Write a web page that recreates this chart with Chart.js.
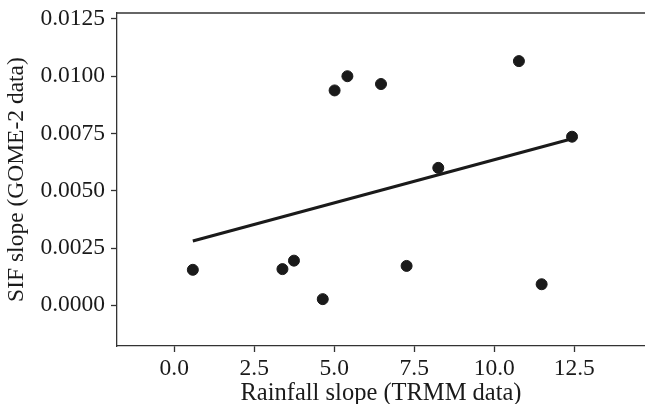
<!DOCTYPE html>
<html>
<head>
<meta charset="utf-8">
<script src="https://cdn.jsdelivr.net/npm/chart.js@4"></script>
<style>
    html, body { margin: 0; padding: 0; background: #fff; }
    #wrap { width: 645px; height: 404px; position: relative; }
</style>
</head>
<body>
<div id="wrap"><canvas id="sifChart"></canvas></div>
<script>
// Rainfall slope vs SIF slope, one point per site
const rainfallSlope = [0.58, 3.38, 3.74, 4.64, 5.01, 5.41, 6.46, 7.26, 8.25, 10.77, 11.48, 12.43];
const sifSlope = [0.00155, 0.00158, 0.00195, 0.00027, 0.00938, 0.0100, 0.00966, 0.00172, 0.0060, 0.01066, 0.00092, 0.00736];

// fitted line, read at its two ends
const fitX = [0.58, 12.43];
const fitY = [0.00281, 0.00727];

const xTickValues = [0, 2.5, 5, 7.5, 10, 12.5];
const yTickValues = [0, 0.0025, 0.005, 0.0075, 0.01, 0.0125];

const ink = '#1a1a1a';
const axisColor = '#333333';
const serif = 'Liberation Serif, "Times New Roman", serif';

// top spine (matplotlib style, no right spine)
const topSpine = {
    id: 'topSpine',
    afterDraw(chart) {
        const { ctx, chartArea } = chart;
        ctx.save();
        ctx.strokeStyle = axisColor;
        ctx.lineWidth = 1.3;
        ctx.beginPath();
        ctx.moveTo(chartArea.left, chartArea.top);
        ctx.lineTo(chartArea.right, chartArea.top);
        ctx.stroke();
        ctx.restore();
    }
};

const ctx = document.getElementById('sifChart').getContext('2d');
new Chart(ctx, {
    type: 'scatter',
    data: {
        datasets: [
            {
                label: 'sites',
                data: rainfallSlope.map((x, i) => ({ x: x, y: sifSlope[i] })),
                backgroundColor: ink,
                borderColor: ink,
                pointRadius: 5.5,
                pointHoverRadius: 5.5,
                order: 1
            },
            {
                label: 'fit',
                type: 'line',
                data: fitX.map((x, i) => ({ x: x, y: fitY[i] })),
                borderColor: ink,
                borderWidth: 3,
                pointRadius: 0,
                fill: false,
                order: 2
            }
        ]
    },
    options: {
        responsive: true,
        maintainAspectRatio: false,
        animation: false,
        layout: {
            autoPadding: false,
            padding: { top: 13, right: 0, bottom: 0, left: 0 }
        },
        plugins: {
            legend: { display: false },
            tooltip: { enabled: false }
        },
        scales: {
            x: {
                type: 'linear',
                min: -1.79,
                max: 14.71,
                afterBuildTicks: function(scale) {
                    scale.ticks = xTickValues.map(v => ({ value: v }));
                },
                afterFit: function(scale) {
                    scale.height = 58;
                    scale.paddingLeft = 0;
                    scale.paddingRight = 0;
                },
                grid: {
                    drawOnChartArea: false,
                    drawTicks: true,
                    tickLength: 6,
                    tickColor: axisColor,
                    tickWidth: 1.3
                },
                border: { display: true, color: axisColor, width: 1.3 },
                ticks: {
                    color: ink,
                    padding: 3,
                    maxRotation: 0,
                    font: { family: serif, size: 23.5 },
                    callback: function(value) { return value.toFixed(1); }
                },
                title: {
                    display: true,
                    text: 'Rainfall slope (TRMM data)',
                    color: ink,
                    padding: { top: 0, bottom: -4 },
                    font: { family: serif, size: 24.5, lineHeight: 1.2 }
                }
            },
            y: {
                type: 'linear',
                min: -0.001776,
                max: 0.01276,
                afterBuildTicks: function(scale) {
                    scale.ticks = yTickValues.map(v => ({ value: v }));
                },
                afterFit: function(scale) {
                    scale.width = 117;
                    scale.paddingTop = 0;
                    scale.paddingBottom = 0;
                },
                grid: {
                    drawOnChartArea: false,
                    drawTicks: true,
                    tickLength: 6,
                    tickColor: axisColor,
                    tickWidth: 1.3
                },
                border: { display: true, color: axisColor, width: 1.3 },
                ticks: {
                    color: ink,
                    padding: 6,
                    font: { family: serif, size: 23.5 },
                    callback: function(value) { return value.toFixed(4); }
                },
                title: {
                    display: true,
                    text: 'SIF slope (GOME-2 data)',
                    color: ink,
                    padding: { top: 3, bottom: 0 },
                    font: { family: serif, size: 23.5, lineHeight: 1.2 }
                }
            }
        }
    },
    plugins: [topSpine]
});
</script>
</body>
</html>
